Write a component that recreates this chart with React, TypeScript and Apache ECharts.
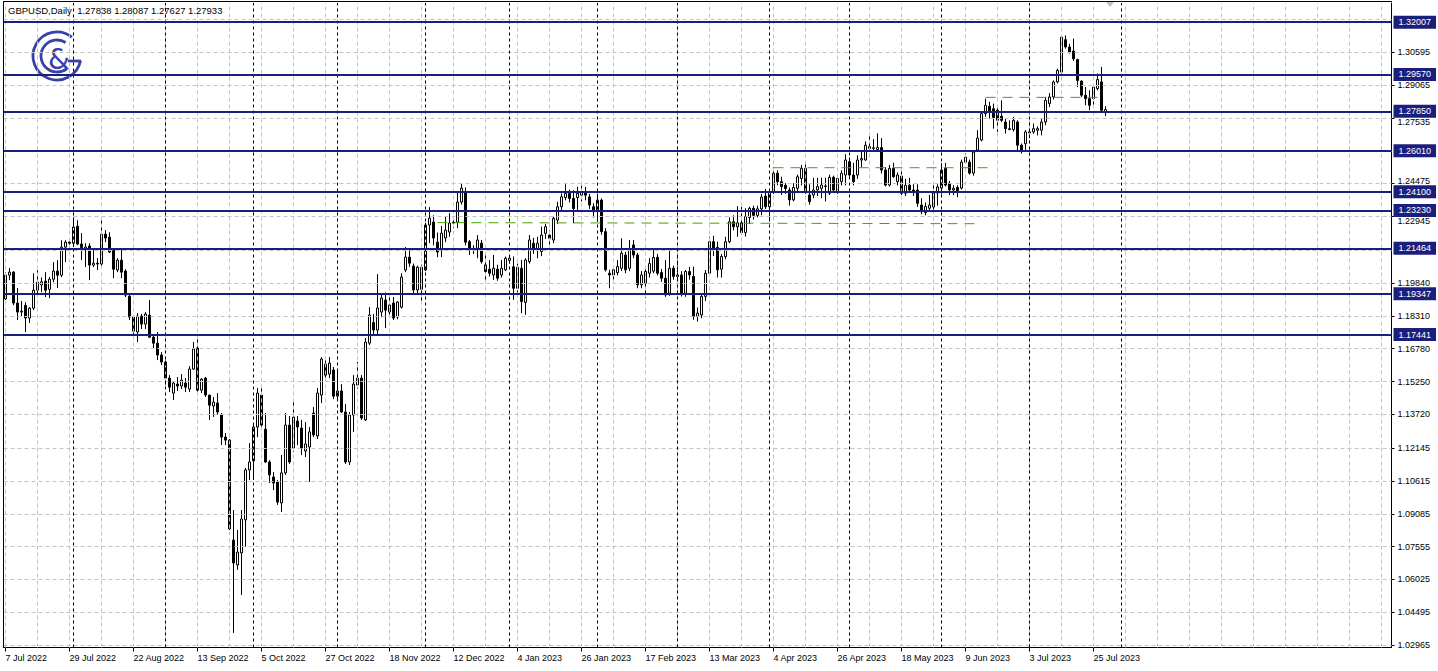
import React, { useEffect, useRef } from 'react';
import * as echarts from 'echarts';

// ---- tick labels ----
const timeLabels = ['7 Jul 2022', '29 Jul 2022', '22 Aug 2022', '13 Sep 2022', '5 Oct 2022', '27 Oct 2022', '18 Nov 2022', '12 Dec 2022', '4 Jan 2023', '26 Jan 2023', '17 Feb 2023', '13 Mar 2023', '4 Apr 2023', '26 Apr 2023', '18 May 2023', '9 Jun 2023', '3 Jul 2023', '25 Jul 2023'];
const priceLabels = [1.02965, 1.04495, 1.06025, 1.07555, 1.09085, 1.10615, 1.12145, 1.13720, 1.15250, 1.16780, 1.18310, 1.19840, 1.22945, 1.24475, 1.27535, 1.29065, 1.30595];
const hiddenGridPrices = [1.21370, 1.26005, 1.32125];
const levels = [1.32007, 1.29570, 1.27850, 1.26010, 1.24100, 1.23230, 1.21464, 1.19347, 1.17441];
const monthStarts = [17, 40, 62, 83, 105, 126, 148, 168, 191, 211, 234, 256, 279];
const trendFrom = [108, 192, 245];
const trendTo = [244, 247, 273];
const trendStartPrice = [1.2266, 1.2522, 1.2850];
const trendEndPrice = [1.2261, 1.2522, 1.2850];

// ---- daily bars [open, high, low, close] ----
const jul22 = [
  [1.1910, 1.2035, 1.1905, 1.2021], [1.2021, 1.2054, 1.1998, 1.2035], [1.2035, 1.2040, 1.1881, 1.1891], [1.1891, 1.1961, 1.1812, 1.1849],
  [1.1849, 1.1900, 1.1830, 1.1853], [1.1880, 1.1895, 1.1756, 1.1821], [1.1821, 1.1872, 1.1798, 1.1867], [1.1867, 1.2030, 1.1858, 1.1951],
  [1.1951, 1.2044, 1.1919, 1.1988], [1.1975, 1.2010, 1.1942, 1.1990], [1.1993, 1.2035, 1.1919, 1.1951], [1.1955, 1.2012, 1.1914, 1.2002],
  [1.2002, 1.2082, 1.1988, 1.2040], [1.2040, 1.2091, 1.1961, 1.2021], [1.2021, 1.2184, 1.2012, 1.2152], [1.2152, 1.2184, 1.2082, 1.2175],
  [1.2175, 1.2189, 1.2140, 1.2170],
];
const aug22 = [
  [1.2170, 1.2291, 1.2152, 1.2245], [1.2249, 1.2277, 1.2161, 1.2166], [1.2166, 1.2217, 1.2091, 1.2150], [1.2143, 1.2170, 1.2059, 1.2152],
  [1.2157, 1.2170, 1.1998, 1.2068], [1.2068, 1.2138, 1.2059, 1.2077], [1.2077, 1.2100, 1.2045, 1.2073], [1.2073, 1.2277, 1.2059, 1.2212],
  [1.2212, 1.2231, 1.2175, 1.2194], [1.2198, 1.2221, 1.2124, 1.2129], [1.2138, 1.2147, 1.2007, 1.2049], [1.2045, 1.2100, 1.2035, 1.2091],
  [1.2091, 1.2147, 1.2007, 1.2035], [1.2040, 1.2049, 1.1919, 1.1928], [1.1923, 1.1928, 1.1812, 1.1826], [1.1826, 1.1835, 1.1742, 1.1760],
  [1.1756, 1.1844, 1.1709, 1.1830], [1.1830, 1.1840, 1.1770, 1.1793], [1.1793, 1.1849, 1.1770, 1.1840], [1.1835, 1.1905, 1.1728, 1.1732],
  [1.1732, 1.1742, 1.1681, 1.1704], [1.1704, 1.1756, 1.1625, 1.1649], [1.1649, 1.1662, 1.1602, 1.1616],
];
const sep22 = [
  [1.1616, 1.1625, 1.1499, 1.1541], [1.1541, 1.1555, 1.1476, 1.1499], [1.1471, 1.1527, 1.1439, 1.1518], [1.1513, 1.1546, 1.1481, 1.1504],
  [1.1504, 1.1560, 1.1490, 1.1532], [1.1518, 1.1541, 1.1476, 1.1499], [1.1490, 1.1597, 1.1476, 1.1583], [1.1583, 1.1709, 1.1579, 1.1677],
  [1.1681, 1.1742, 1.1471, 1.1485], [1.1485, 1.1541, 1.1471, 1.1536], [1.1541, 1.1546, 1.1453, 1.1462], [1.1462, 1.1462, 1.1346, 1.1415],
  [1.1411, 1.1453, 1.1360, 1.1429], [1.1425, 1.1471, 1.1369, 1.1383], [1.1369, 1.1378, 1.1229, 1.1266], [1.1266, 1.1285, 1.1229, 1.1252],
  [1.1252, 1.1257, 1.0833, 1.0838], [1.0786, 1.0926, 1.0353, 1.0679], [1.0670, 1.0833, 1.0647, 1.0730], [1.0726, 1.0926, 1.0530, 1.0884],
  [1.0880, 1.1122, 1.0754, 1.1113], [1.1113, 1.1238, 1.1066, 1.1150],
];
const oct22 = [
  [1.1155, 1.1322, 1.1066, 1.1313], [1.1313, 1.1495, 1.1266, 1.1471], [1.1462, 1.1495, 1.1300, 1.1322], [1.1303, 1.1378, 1.1146, 1.1150],
  [1.1150, 1.1159, 1.1052, 1.1090], [1.1080, 1.1103, 1.1019, 1.1052], [1.1057, 1.1066, 1.0950, 1.0963], [1.0959, 1.1183, 1.0917, 1.1099],
  [1.1099, 1.1378, 1.1090, 1.1322], [1.1322, 1.1364, 1.1141, 1.1150], [1.1215, 1.1439, 1.1196, 1.1359], [1.1341, 1.1364, 1.1229, 1.1313],
  [1.1308, 1.1346, 1.1182, 1.1215], [1.1201, 1.1336, 1.1173, 1.1234], [1.1220, 1.1313, 1.1057, 1.1290], [1.1378, 1.1406, 1.1266, 1.1276],
  [1.1271, 1.1495, 1.1257, 1.1471], [1.1462, 1.1639, 1.1425, 1.1630], [1.1606, 1.1635, 1.1530, 1.1555], [1.1560, 1.1639, 1.1541, 1.1611],
  [1.1579, 1.1593, 1.1443, 1.1457],
];
const nov22 = [
  [1.1457, 1.1574, 1.1443, 1.1481], [1.1481, 1.1513, 1.1378, 1.1383], [1.1383, 1.1420, 1.1141, 1.1150], [1.1150, 1.1383, 1.1136, 1.1369],
  [1.1369, 1.1555, 1.1290, 1.1513], [1.1509, 1.1616, 1.1490, 1.1541], [1.1541, 1.1555, 1.1346, 1.1355], [1.1346, 1.1728, 1.1341, 1.1709],
  [1.1704, 1.1872, 1.1695, 1.1835], [1.1800, 1.1840, 1.1740, 1.1765], [1.1765, 1.2026, 1.1740, 1.1868], [1.1849, 1.1935, 1.1825, 1.1914],
  [1.1905, 1.1940, 1.1774, 1.1858], [1.1849, 1.1919, 1.1835, 1.1882], [1.1891, 1.1919, 1.1812, 1.1821], [1.1826, 1.1900, 1.1815, 1.1896],
  [1.1872, 1.2030, 1.1865, 1.2012], [1.2045, 1.2152, 1.2035, 1.2105], [1.2105, 1.2138, 1.2060, 1.2077], [1.2063, 1.2075, 1.1935, 1.1952],
  [1.1952, 1.2065, 1.1935, 1.2058], [1.1955, 1.2070, 1.1896, 1.2058],
];
const dec22 = [
  [1.2045, 1.2265, 1.2040, 1.2255], [1.2255, 1.2338, 1.2171, 1.2287], [1.2269, 1.2300, 1.2160, 1.2194], [1.2175, 1.2220, 1.2105, 1.2129],
  [1.2138, 1.2250, 1.2105, 1.2217], [1.2194, 1.2296, 1.2175, 1.2231], [1.2222, 1.2310, 1.2200, 1.2264], [1.2264, 1.2290, 1.2240, 1.2268],
  [1.2268, 1.2410, 1.2240, 1.2362], [1.2362, 1.2450, 1.2350, 1.2427], [1.2409, 1.2430, 1.2160, 1.2175], [1.2177, 1.2185, 1.2115, 1.2146],
  [1.2146, 1.2160, 1.2120, 1.2142], [1.2146, 1.2208, 1.2100, 1.2185], [1.2170, 1.2185, 1.2075, 1.2084], [1.2069, 1.2123, 1.1991, 1.2038],
  [1.2049, 1.2092, 1.2015, 1.2030], [1.2022, 1.2115, 1.1999, 1.2053], [1.2049, 1.2070, 1.1995, 1.2007], [1.2022, 1.2092, 1.2010, 1.2053],
  [1.2046, 1.2108, 1.2040, 1.2100],
];
const jan23 = [
  [1.2090, 1.2115, 1.2075, 1.2100], [1.2060, 1.2108, 1.1906, 1.1960], [1.1960, 1.2075, 1.1940, 1.2058], [1.2053, 1.2092, 1.1844, 1.1898],
  [1.1894, 1.2100, 1.1836, 1.2092], [1.2084, 1.2208, 1.2075, 1.2185], [1.2170, 1.2195, 1.2120, 1.2146], [1.2139, 1.2200, 1.2100, 1.2170],
  [1.2131, 1.2247, 1.2110, 1.2208], [1.2216, 1.2260, 1.2190, 1.2247], [1.2208, 1.2230, 1.2150, 1.2193], [1.2185, 1.2294, 1.2170, 1.2286],
  [1.2278, 1.2363, 1.2260, 1.2340], [1.2340, 1.2402, 1.2320, 1.2386], [1.2383, 1.2445, 1.2370, 1.2402], [1.2402, 1.2420, 1.2360, 1.2379],
  [1.2379, 1.2417, 1.2263, 1.2332], [1.2383, 1.2433, 1.2325, 1.2402], [1.2394, 1.2440, 1.2365, 1.2410], [1.2410, 1.2433, 1.2370, 1.2394],
  [1.2386, 1.2400, 1.2330, 1.2348], [1.2340, 1.2356, 1.2290, 1.2317],
];
const feb23 = [
  [1.2317, 1.2402, 1.2270, 1.2371], [1.2371, 1.2379, 1.2210, 1.2224], [1.2224, 1.2240, 1.2038, 1.2046], [1.2030, 1.2046, 1.1960, 1.2022],
  [1.2022, 1.2060, 1.2000, 1.2046], [1.2033, 1.2092, 1.2020, 1.2061], [1.2053, 1.2193, 1.2040, 1.2123], [1.2115, 1.2130, 1.2030, 1.2046],
  [1.2053, 1.2185, 1.2040, 1.2139], [1.2162, 1.2185, 1.2100, 1.2115], [1.2115, 1.2125, 1.1960, 1.1976], [1.1976, 1.2040, 1.1960, 1.2022],
  [1.1984, 1.2061, 1.1914, 1.2038], [1.2030, 1.2100, 1.2010, 1.2075], [1.2040, 1.2146, 1.2030, 1.2104], [1.2104, 1.2120, 1.2020, 1.2030],
  [1.2033, 1.2050, 1.1990, 1.2007], [1.2007, 1.2092, 1.1920, 1.1929], [1.1937, 1.2140, 1.1925, 1.2053], [1.2053, 1.2065, 1.2000, 1.2015],
];
const mar23 = [
  [1.2015, 1.2110, 1.1990, 1.2022], [1.2022, 1.2040, 1.1922, 1.1937], [1.1937, 1.2045, 1.1920, 1.2038], [1.2038, 1.2060, 1.2000, 1.2022],
  [1.2015, 1.2061, 1.1813, 1.1829], [1.1829, 1.1870, 1.1805, 1.1844], [1.1836, 1.1935, 1.1820, 1.1922], [1.1922, 1.2045, 1.1900, 1.2030],
  [1.2030, 1.2200, 1.2020, 1.2177], [1.2177, 1.2205, 1.2110, 1.2146], [1.2150, 1.2177, 1.2010, 1.2046], [1.2049, 1.2120, 1.2010, 1.2108],
  [1.2108, 1.2200, 1.2095, 1.2177], [1.2177, 1.2290, 1.2170, 1.2270], [1.2270, 1.2300, 1.2230, 1.2247], [1.2247, 1.2343, 1.2200, 1.2265],
  [1.2265, 1.2340, 1.2210, 1.2220], [1.2220, 1.2333, 1.2201, 1.2294], [1.2290, 1.2340, 1.2260, 1.2333], [1.2333, 1.2345, 1.2280, 1.2300],
  [1.2300, 1.2345, 1.2290, 1.2330], [1.2330, 1.2400, 1.2300, 1.2385], [1.2390, 1.2423, 1.2330, 1.2340],
];
const apr23 = [
  [1.2340, 1.2420, 1.2275, 1.2410], [1.2410, 1.2525, 1.2400, 1.2496], [1.2496, 1.2510, 1.2440, 1.2457], [1.2457, 1.2480, 1.2395, 1.2434],
  [1.2440, 1.2450, 1.2400, 1.2425], [1.2418, 1.2430, 1.2345, 1.2372], [1.2372, 1.2450, 1.2365, 1.2430], [1.2426, 1.2490, 1.2410, 1.2480],
  [1.2472, 1.2535, 1.2440, 1.2519], [1.2519, 1.2545, 1.2400, 1.2410], [1.2395, 1.2445, 1.2350, 1.2364], [1.2395, 1.2475, 1.2380, 1.2418],
  [1.2418, 1.2475, 1.2390, 1.2434], [1.2426, 1.2475, 1.2380, 1.2441], [1.2434, 1.2475, 1.2365, 1.2437], [1.2403, 1.2490, 1.2395, 1.2477],
  [1.2477, 1.2485, 1.2410, 1.2418], [1.2410, 1.2490, 1.2400, 1.2472], [1.2457, 1.2510, 1.2440, 1.2496], [1.2488, 1.2585, 1.2440, 1.2558],
];
const may23 = [
  [1.2550, 1.2570, 1.2480, 1.2488], [1.2488, 1.2545, 1.2440, 1.2457], [1.2488, 1.2580, 1.2470, 1.2558], [1.2558, 1.2600, 1.2525, 1.2565],
  [1.2558, 1.2645, 1.2555, 1.2627], [1.2620, 1.2674, 1.2600, 1.2612], [1.2612, 1.2655, 1.2595, 1.2615], [1.2607, 1.2682, 1.2595, 1.2616],
  [1.2616, 1.2660, 1.2495, 1.2511], [1.2511, 1.2525, 1.2435, 1.2441], [1.2441, 1.2535, 1.2435, 1.2519], [1.2519, 1.2545, 1.2475, 1.2480],
  [1.2457, 1.2500, 1.2440, 1.2488], [1.2483, 1.2510, 1.2395, 1.2403], [1.2403, 1.2470, 1.2390, 1.2440], [1.2440, 1.2475, 1.2405, 1.2418],
  [1.2418, 1.2445, 1.2390, 1.2410], [1.2418, 1.2445, 1.2340, 1.2356], [1.2348, 1.2380, 1.2305, 1.2317], [1.2313, 1.2360, 1.2300, 1.2341],
  [1.2333, 1.2395, 1.2325, 1.2348], [1.2339, 1.2445, 1.2320, 1.2404], [1.2404, 1.2445, 1.2345, 1.2432],
];
const jun23 = [
  [1.2427, 1.2544, 1.2400, 1.2511], [1.2520, 1.2545, 1.2435, 1.2441], [1.2450, 1.2460, 1.2394, 1.2418], [1.2418, 1.2440, 1.2394, 1.2426],
  [1.2430, 1.2440, 1.2385, 1.2415], [1.2427, 1.2560, 1.2420, 1.2548], [1.2548, 1.2590, 1.2540, 1.2571], [1.2548, 1.2560, 1.2490, 1.2497],
  [1.2497, 1.2600, 1.2485, 1.2595], [1.2604, 1.2697, 1.2595, 1.2660], [1.2651, 1.2782, 1.2645, 1.2774], [1.2774, 1.2844, 1.2759, 1.2813],
  [1.2808, 1.2829, 1.2751, 1.2782], [1.2797, 1.2821, 1.2704, 1.2756], [1.2790, 1.2805, 1.2689, 1.2743], [1.2762, 1.2836, 1.2735, 1.2743],
  [1.2735, 1.2751, 1.2681, 1.2704], [1.2700, 1.2743, 1.2697, 1.2704], [1.2700, 1.2759, 1.2690, 1.2743], [1.2735, 1.2743, 1.2603, 1.2627],
  [1.2627, 1.2635, 1.2588, 1.2603], [1.2634, 1.2697, 1.2600, 1.2689],
];
const jul23 = [
  [1.2689, 1.2700, 1.2660, 1.2684], [1.2689, 1.2728, 1.2680, 1.2704], [1.2697, 1.2715, 1.2673, 1.2704], [1.2697, 1.2750, 1.2673, 1.2735],
  [1.2735, 1.2852, 1.2720, 1.2836], [1.2821, 1.2870, 1.2805, 1.2852], [1.2852, 1.2929, 1.2840, 1.2922], [1.2922, 1.2984, 1.2915, 1.2976],
  [1.2968, 1.3139, 1.2960, 1.3131], [1.3119, 1.3139, 1.3077, 1.3085], [1.3085, 1.3100, 1.3054, 1.3061], [1.3066, 1.3124, 1.3020, 1.3030],
  [1.3026, 1.3030, 1.2898, 1.2929], [1.2926, 1.2929, 1.2852, 1.2860], [1.2860, 1.2898, 1.2813, 1.2844], [1.2844, 1.2883, 1.2790, 1.2813],
  [1.2844, 1.2906, 1.2813, 1.2898], [1.2891, 1.2961, 1.2883, 1.2933], [1.2922, 1.2992, 1.2782, 1.2790], [1.27838, 1.28087, 1.27627, 1.27933],
];

const SLOTS = 347;
const LABEL_STEP = 16;
const GRID_STEP = 8;
const Y_MIN = 1.0285;
const Y_MAX = 1.3290;
const GRID_H = 644.5;
const PX_PER_UNIT = GRID_H / (Y_MAX - Y_MIN);
const NAVY = '#1b1f7c';
const GREEN = '#47a300';
const LOGO = '#3b40a6';
const FONT = 'Liberation Sans';

// labels that sit right next to a level tag are nudged a few pixels away from it
const labelNudgePx: Record<string, number> = { '1.27535': 4, '1.24475': -3, '1.22945': 4 };

export default function App() {
  const ref = useRef<HTMLDivElement>(null);

  useEffect(() => {
    document.body.style.margin = '0';
    const chart = echarts.init(ref.current as HTMLDivElement, null, { renderer: 'svg' });

    const bars = [...jul22, ...aug22, ...sep22, ...oct22, ...nov22, ...dec22, ...jan23, ...feb23, ...mar23, ...apr23, ...may23, ...jun23, ...jul23];
    const candles = bars.map(([o, h, l, c]) => [o, c, l, h]);
    const categories: string[] = [];
    for (let i = 0; i < SLOTS; i++) categories.push(String(i));
    const lastLabelIdx = (timeLabels.length - 1) * LABEL_STEP;
    const isLabel = (i: number) => i % LABEL_STEP === 0 && i <= lastLabelIdx;

    const vGrid: any[] = [];
    for (let i = 0; i < SLOTS; i += GRID_STEP) vGrid.push({ xAxis: String(i) });
    const hGrid = [...priceLabels, ...hiddenGridPrices].map((p) => ({ yAxis: p }));

    const labelPositions = priceLabels.map((v) => v - (labelNudgePx[v.toFixed(5)] || 0) / PX_PER_UNIT);
    const labelText = (v: number) => {
      let best = priceLabels[0];
      for (const p of priceLabels) if (Math.abs(p - v) < Math.abs(best - v)) best = p;
      return best.toFixed(5);
    };

    const trendSeries = trendFrom.map((f, k) => ({
      type: 'line',
      silent: true,
      z: 5,
      symbol: 'none',
      showSymbol: false,
      color: GREEN,
      lineStyle: { color: GREEN, type: [10, 7], width: 1 },
      emphasis: { disabled: true },
      data: [
        [String(f), trendStartPrice[k]],
        [String(trendTo[k]), trendEndPrice[k]],
      ],
    }));

    const option: any = {
      animation: false,
      backgroundColor: '#ffffff',
      grid: { left: 3.5, top: 3, width: 1388, height: GRID_H },
      xAxis: {
        type: 'category',
        data: categories,
        boundaryGap: true,
        axisLine: { show: true, lineStyle: { color: '#000', width: 1 } },
        axisTick: { show: true, alignWithLabel: true, interval: (i: number) => isLabel(i), length: 4, lineStyle: { color: '#000' } },
        axisLabel: {
          show: true,
          interval: (i: number) => isLabel(i),
          formatter: (v: string) => timeLabels[Number(v) / LABEL_STEP] || '',
          align: 'left',
          margin: 6,
          fontSize: 9,
          fontFamily: FONT,
          color: '#000',
        },
        splitLine: { show: false },
      },
      yAxis: {
        type: 'value',
        position: 'right',
        min: Y_MIN,
        max: Y_MAX,
        axisLine: { show: true, lineStyle: { color: '#000', width: 1 } },
        axisTick: { show: true, customValues: priceLabels, length: 3, lineStyle: { color: '#000' } },
        axisLabel: {
          show: true,
          customValues: labelPositions,
          formatter: (v: number) => labelText(v),
          margin: 6,
          fontSize: 9,
          fontFamily: FONT,
          color: '#000',
        },
        splitLine: { show: false },
      },
      series: [
        {
          type: 'line', data: [], silent: true, z: 1,
          markLine: {
            silent: true, animation: false, precision: 6, symbol: ['none', 'none'], label: { show: false },
            lineStyle: { color: '#c4c4c4', type: [4, 3], width: 1 },
            data: [...hGrid, ...vGrid],
          },
        },
        {
          type: 'line', data: [], silent: true, z: 2,
          markLine: {
            silent: true, animation: false, precision: 6, symbol: ['none', 'none'], label: { show: false },
            lineStyle: { color: '#000', type: [3, 3], width: 1 },
            data: monthStarts.map((i) => ({ xAxis: String(i) })),
          },
        },
        {
          type: 'candlestick', data: candles, silent: true, z: 3, barWidth: 2,
          itemStyle: { color: '#ffffff', color0: '#000000', borderColor: '#000000', borderColor0: '#000000', borderWidth: 1 },
        },
        ...trendSeries,
        {
          type: 'line', data: [], silent: true, z: 6,
          markLine: {
            silent: true, animation: false, precision: 6, symbol: ['none', 'none'],
            lineStyle: { color: NAVY, type: 'solid', width: 2 },
            label: {
              show: true, position: 'end', distance: 2,
              color: '#ffffff', backgroundColor: NAVY, padding: [1, 5, 1, 5],
              fontSize: 9, fontFamily: FONT, lineHeight: 11,
            },
            data: levels.map((v) => ({ yAxis: v, label: { formatter: v.toFixed(5) } })),
          },
        },
      ],
      graphic: [
        { type: 'line', silent: true, z: 20, shape: { x1: 3.5, y1: 1.5, x2: 3.5, y2: 647.5 }, style: { stroke: '#000', lineWidth: 1 } },
        { type: 'line', silent: true, z: 20, shape: { x1: 3, y1: 1.5, x2: 1392, y2: 1.5 }, style: { stroke: '#000', lineWidth: 1 } },
        { type: 'polygon', silent: true, z: 20, shape: { points: [[1106, 2], [1114, 2], [1110, 7]] }, style: { fill: '#c0c0c0' } },
        {
          type: 'text', silent: true, z: 20, x: 8, y: 5,
          style: { text: 'GBPUSD,Daily  1.27838 1.28087 1.27627 1.27933', fontSize: 9.5, fontFamily: FONT, fill: '#000' },
        },
        {
          type: 'group', silent: true, z: 20,
          children: [
            { type: 'arc', shape: { cx: 57, cy: 56, r: 24, startAngle: -0.9, endAngle: 0.2, clockwise: false }, style: { stroke: LOGO, lineWidth: 2.8, fill: 'none' } },
            { type: 'line', shape: { x1: 81, y1: 61, x2: 68, y2: 61 }, style: { stroke: LOGO, lineWidth: 2.8 } },
            { type: 'arc', shape: { cx: 57, cy: 56, r: 16, startAngle: -1.0, endAngle: 0.9, clockwise: false }, style: { stroke: LOGO, lineWidth: 2.8, fill: 'none' } },
            { type: 'text', x: 59, y: 59, style: { text: '&', fontSize: 28, fontFamily: 'DejaVu Sans', fill: LOGO, align: 'center', verticalAlign: 'middle' } },
          ],
        },
      ],
    };

    chart.setOption(option);
    return () => chart.dispose();
  }, []);

  return <div ref={ref} style={{ position: 'fixed', left: 0, top: 0, width: 1438, height: 671, background: '#fff' }} />;
}
